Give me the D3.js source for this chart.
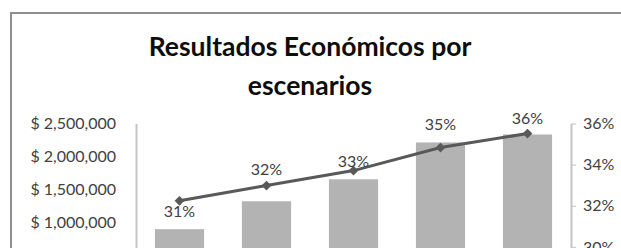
<!DOCTYPE html>
<html lang="es">
<head>
<meta charset="UTF-8">
<title>Resultados Económicos por escenarios</title>
<script src="https://cdn.jsdelivr.net/npm/d3@7"></script>
<style>
    html, body { margin: 0; padding: 0; background: #fff; overflow: hidden; }
    svg { display: block; }
</style>
</head>
<body>
<script>
    // datos
    var titleLines = ["Resultados Económicos por", "escenarios"];
    var escenarios = ["Escenario 1", "Escenario 2", "Escenario 3", "Escenario 4", "Escenario 5"];
    var resultados = [894000, 1318000, 1652000, 2212000, 2333000];
    var margen = [0.3224, 0.3298, 0.3371, 0.3483, 0.3551];
    var margenLabels = ["31%", "32%", "33%", "35%", "36%"];
    var leftTicks = [0, 500000, 1000000, 1500000, 2000000, 2500000];
    var rightTicks = [0.28, 0.30, 0.32, 0.34, 0.36];

    var w = 621, h = 248;
    var font = "Lato, 'Open Sans', sans-serif";
    var labelDy = [11, -16, -9, -23, -15];

    var svg = d3.select("body").append("svg")
        .attr("width", w)
        .attr("height", h);

    // marco del grafico
    svg.append("rect")
        .attr("x", 11).attr("y", 13)
        .attr("width", 660).attr("height", 400)
        .attr("fill", "#fff")
        .attr("stroke", "#8f8f8f")
        .attr("stroke-width", 2);

    svg.append("text")
        .attr("font-family", font)
        .attr("font-weight", "bold")
        .attr("font-size", "26.5px")
        .attr("fill", "#0d0d0d")
        .attr("text-anchor", "middle")
        .selectAll("tspan")
        .data(titleLines)
        .enter()
        .append("tspan")
        .attr("x", 310)
        .attr("y", function (d, i) { return 56 + i * 39; })
        .text(function (d) { return d; });

    var xScale = d3.scaleBand()
        .domain(escenarios)
        .range([136, 571])
        .paddingInner(0.435)
        .paddingOuter(0.2175);
    var yScale = d3.scaleLinear()
        .domain([0, 2500000])
        .range([288, 123.5]);
    var y2Scale = d3.scaleLinear()
        .domain([0.28, 0.36])
        .range([288, 123.5]);

    svg.selectAll("rect.bar")
        .data(resultados)
        .enter()
        .append("rect")
        .attr("class", "bar")
        .attr("x", function (d, i) { return xScale(escenarios[i]); })
        .attr("y", function (d) { return yScale(d); })
        .attr("width", xScale.bandwidth())
        .attr("height", function (d) { return yScale(0) - yScale(d); })
        .attr("fill", "#b3b3b3");

    var leftAxis = svg.append("g")
        .attr("transform", "translate(136,0)")
        .call(d3.axisLeft(yScale)
            .tickValues(leftTicks)
            .tickSize(0)
            .tickPadding(20)
            .tickFormat(function (d) { return "$ " + d3.format(",")(d); }));
    var rightAxis = svg.append("g")
        .attr("transform", "translate(571,0)")
        .call(d3.axisRight(y2Scale)
            .tickValues(rightTicks)
            .tickSize(5)
            .tickSizeOuter(0)
            .tickPadding(7)
            .tickFormat(d3.format(".0%")));

    [leftAxis, rightAxis].forEach(function (g) {
        g.select(".domain").attr("stroke", "#c4c4c4").attr("stroke-width", 2);
        g.selectAll(".tick line").attr("stroke", "#c4c4c4");
        g.selectAll(".tick text")
            .attr("font-family", font)
            .attr("font-size", "16px")
            .attr("fill", "#404040");
    });

    var line = d3.line()
        .x(function (d, i) { return xScale(escenarios[i]) + xScale.bandwidth() / 2; })
        .y(function (d) { return y2Scale(d); });

    svg.append("path")
        .datum(margen)
        .attr("d", line)
        .attr("fill", "none")
        .attr("stroke", "#595959")
        .attr("stroke-width", 3);

    svg.selectAll("path.marker")
        .data(margen)
        .enter()
        .append("path")
        .attr("class", "marker")
        .attr("d", d3.symbol(d3.symbolSquare).size(48))
        .attr("transform", function (d, i) {
            var cx = xScale(escenarios[i]) + xScale.bandwidth() / 2;
            return "translate(" + cx + "," + y2Scale(d) + ") rotate(45)";
        })
        .attr("fill", "#595959");

    svg.selectAll("text.dl")
        .data(margen)
        .enter()
        .append("text")
        .attr("class", "dl")
        .attr("x", function (d, i) { return xScale(escenarios[i]) + xScale.bandwidth() / 2; })
        .attr("y", function (d, i) { return y2Scale(d) + labelDy[i]; })
        .attr("dy", "0.35em")
        .attr("text-anchor", "middle")
        .attr("font-family", font)
        .attr("font-size", "16px")
        .attr("fill", "#404040")
        .text(function (d, i) { return margenLabels[i]; });
</script>
</body>
</html>
